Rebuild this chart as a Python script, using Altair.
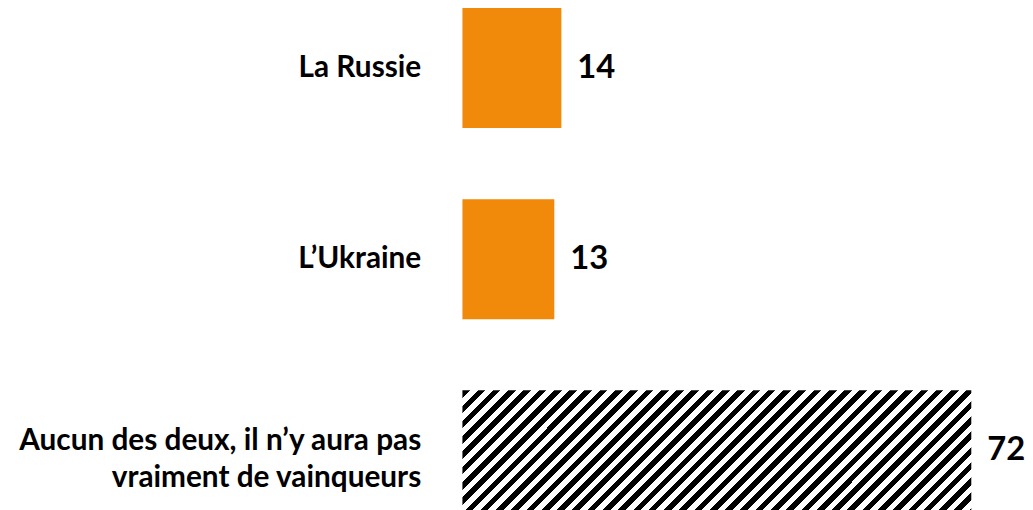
import altair as alt
import pandas as pd

# Data
categories = [
    "La Russie",
    "L\u2019Ukraine",
    "Aucun des deux, il n\u2019y aura pas\nvraiment de vainqueurs",
]
values = [14, 13, 72]
hatched = [False, False, True]

df = pd.DataFrame({"cat": categories, "val": values, "hatched": hatched})

ORANGE = "#F1890A"

# Hatch style: hard-stop linear gradient giving 45-degree "/" stripes
BAR_W, BAR_H = 513.0, 121.0
a = (BAR_W + BAR_H) / BAR_W / (1 + (BAR_H / BAR_W) ** 2)
b = a * BAR_H / BAR_W
span = BAR_W + BAR_H
period = 15.4
stops = []
pos = 0.0
while pos < span:
    s0 = pos / span
    s1 = min((pos + period / 2) / span, 1.0)
    s2 = min((pos + period) / span, 1.0)
    stops += [
        {"offset": s0, "color": "black"},
        {"offset": s1, "color": "black"},
        {"offset": s1, "color": "white"},
        {"offset": s2, "color": "white"},
    ]
    pos += period
hatch = {"gradient": "linear", "x1": 0, "y1": 0, "x2": a, "y2": b, "stops": stops}

y_enc = alt.Y(
    "cat:N",
    sort=categories,
    scale=alt.Scale(paddingInner=0.372, paddingOuter=0, range=[-2, 504.4]),
    axis=alt.Axis(
        title=None,
        domain=False,
        ticks=False,
        grid=False,
        labelFont="Lato",
        labelFontSize=30,
        labelFontWeight="bold",
        labelColor="black",
        labelPadding=42,
        labelLimit=0,
        labelLineHeight=37,
        labelExpr="split(datum.value, '\\n')",
        labelOffset={"condition": {"test": "indexof(datum.value, '\\n') >= 0", "value": -9}, "value": 0},
    ),
)
x_enc = alt.X("val:Q", scale=alt.Scale(domain=[0, 79.6]), axis=None)

base = alt.Chart(df)

orange_bars = base.transform_filter("!datum.hatched").mark_bar(color=ORANGE).encode(x=x_enc, y=y_enc)
hatch_bar = base.transform_filter("datum.hatched").mark_bar(color=hatch).encode(x=x_enc, y=y_enc)

labels = base.mark_text(
    align="left", baseline="middle", dx=16, font="Lato", fontSize=33, fontWeight="bold", color="black"
).encode(x=x_enc, y=y_enc, text="val:Q")

chart = (
    alt.layer(orange_bars, hatch_bar, labels)
    .properties(
        width=567,
        height=502,
        background="white",
        autosize=alt.AutoSizeParams(type="none"),
        padding={"left": 458, "top": 0, "right": 0, "bottom": 0},
    )
    .configure_view(strokeWidth=0, stroke="transparent")
)

chart.save("out.html", embed_options={"renderer": "svg", "actions": False})
